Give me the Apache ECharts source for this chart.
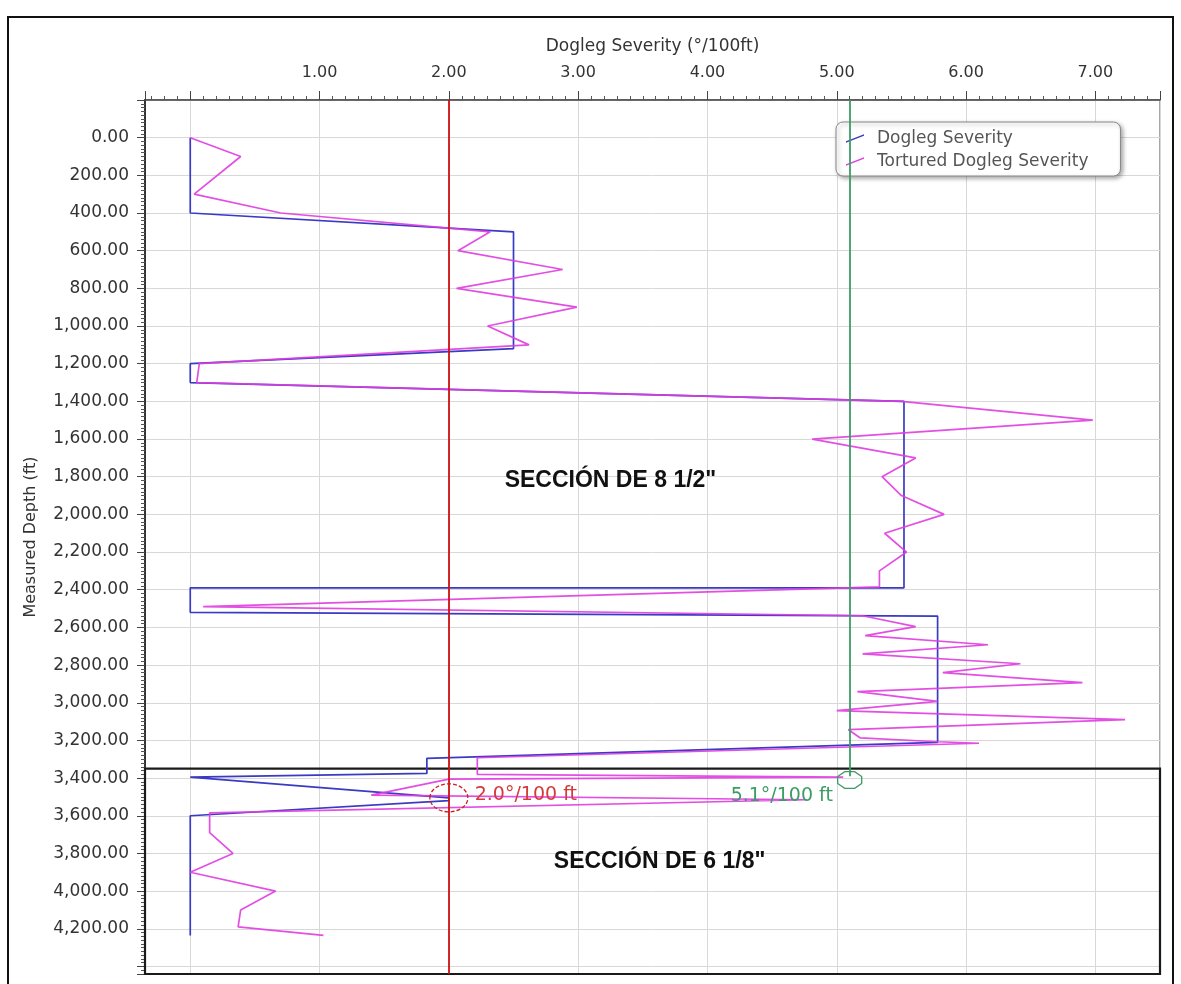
<!DOCTYPE html>
<html>
<head>
<meta charset="utf-8">
<script src="https://cdn.jsdelivr.net/npm/echarts@6/dist/echarts.min.js"></script>
<style>
html,body{margin:0;padding:0;background:#fff;}
#chart{width:1181px;height:984px;}
</style>
</head>
<body>
<div id="chart"></div>
<script>
// Dogleg Severity (°/100ft) vs Measured Depth (ft)
const dlsDepth = [0,400,500,1120,1200,1300,1400,2390,2390,2520,2540,3210,3295,3375,3395,3505,3520,3600,4235];
const dlsValue = [0,0,2.5,2.5,0,0,5.52,5.52,0,0,5.78,5.78,1.83,1.83,0,2.0,2.0,0,0];

const tortDepth = [0,100,300,400,500,600,700,800,900,1000,1100,1200,1300,1400,1500,1600,1700,1800,1900,2000,2100,2200,2300,2385,2490,2538,2596,2644,2692,2740,2793,2840,2893,2941,2993,3042,3090,3143,3186,3207,3215,3292,3380,3395,3405,3490,3515,3585,3690,3800,3900,4000,4100,4190,4235];
const tortValue = [0,0.39,0.03,0.7,2.32,2.07,2.88,2.06,2.99,2.3,2.62,0.07,0.05,5.5,6.98,4.81,5.61,5.35,5.5,5.83,5.37,5.54,5.33,5.33,0.1,5.2,5.61,5.22,6.17,5.2,6.42,5.82,6.9,5.16,5.78,5.0,7.23,5.09,5.18,5.78,6.1,2.22,2.22,5.05,2.0,1.4,4.77,0.15,0.15,0.33,0.0,0.66,0.39,0.37,1.03];

const seriesNames = ['Dogleg Severity','Tortured Dogleg Severity'];
const limitRed = 2.0;
const limitGreen = 5.1;
const limitGreenEnd = 3390;
const sectionTop = 3350;
const xMin = -0.35, xMax = 7.5;
const yMin = -200, yMax = 4440;
const annotations = [
  {text:'SECCIÓN DE 8 1/2"', x:3.25, y:1821},
  {text:'SECCIÓN DE 6 1/8"', x:3.63, y:3845}
];
const redLabel = {text:'2.0°/100 ft', x:2.2, y:3490};
const greenLabel = {text:'5.1°/100 ft', x:4.97, y:3495};
const redCircle = {x:2.0, y:3505};
const greenOct = {x:5.1, y:3410};

const FONT = '"DejaVu Sans", sans-serif';
const chart = echarts.init(document.getElementById('chart'));
const zip = (a,b) => a.map((v,i)=>[v,b[i]]);

const option = {
  animation:false,
  backgroundColor:'#fff',
  grid:{left:145, top:100, right:21, bottom:10, show:true, borderColor:'#8a8a8a', borderWidth:1.5, outerBoundsMode:'none'},
  legend:{
    orient:'vertical', left:836, top:122, padding:[8,32,6,10], itemGap:6,
    itemWidth:18, itemHeight:9,
    backgroundColor:'#fff', borderColor:'#888', borderWidth:1, borderRadius:7,
    shadowBlur:4, shadowColor:'rgba(0,0,0,0.35)', shadowOffsetX:2, shadowOffsetY:2,
    textStyle:{color:'#555', fontSize:17, fontFamily:FONT, padding:[0,0,0,8]},
    data:[
      {name:seriesNames[0], icon:'path://M0,9 L18,2 L18,3.4 L0,10.4 Z'},
      {name:seriesNames[1], icon:'path://M0,9 L18,2 L18,3.4 L0,10.4 Z'}
    ]
  },
  xAxis:{
    type:'value', position:'top', min:xMin, max:xMax, splitNumber:8,
    name:'Dogleg Severity (°/100ft)', nameLocation:'middle', nameGap:45,
    nameTextStyle:{color:'#333', fontSize:17, fontFamily:FONT},
    axisLine:{show:true, onZero:false, lineStyle:{color:'#444', width:1.5}},
    axisTick:{show:true, length:9, lineStyle:{color:'#444'}},
    minorTick:{show:true, splitNumber:10, length:4, lineStyle:{color:'#555'}},
    axisLabel:{color:'#333', fontSize:16, fontFamily:FONT, margin:19, showMinLabel:false, showMaxLabel:false,
      formatter:v => v <= 0.001 ? '' : v.toFixed(2)},
    splitLine:{show:true, lineStyle:{color:'#d8d8d8', width:1}}
  },
  yAxis:{
    type:'value', inverse:true, min:yMin, max:yMax, interval:200,
    name:'Measured Depth (ft)', nameLocation:'middle', nameGap:106,
    nameTextStyle:{color:'#333', fontSize:16, fontFamily:FONT},
    axisLine:{show:true, onZero:false, lineStyle:{color:'#333', width:2}},
    axisTick:{show:true, length:8, lineStyle:{color:'#444'}},
    minorTick:{show:true, splitNumber:10, length:4, lineStyle:{color:'#555'}},
    axisLabel:{color:'#333', fontSize:17, fontFamily:FONT, margin:16, showMinLabel:false, showMaxLabel:false,
      formatter:v => (v < 0 || v > 4300) ? '' : v.toLocaleString('en-US',{minimumFractionDigits:2, maximumFractionDigits:2})},
    splitLine:{show:true, lineStyle:{color:'#d8d8d8', width:1}}
  },
  series:[
    {
      name:seriesNames[0], type:'line', data:zip(dlsValue, dlsDepth), showSymbol:false, symbol:'none',
      color:'#3a3ac4', lineStyle:{width:1.7, color:'#3a3ac4'}, z:3
    },
    {
      name:seriesNames[1], type:'line', data:zip(tortValue, tortDepth), showSymbol:false, symbol:'none',
      color:'#e03ce0', lineStyle:{width:1.7, color:'#e03ce0', opacity:0.9}, z:4
    },
    {
      name:'limits', type:'line', data:[], clip:false, z:6, silent:true,
      markLine:{
        silent:true, symbol:'none', animation:false,
        label:{show:false},
        data:[
          [{coord:[limitRed, yMin], lineStyle:{color:'#d01010', width:1.8, type:'solid'}}, {coord:[limitRed, yMax]}],
          [{coord:[limitGreen, yMin], lineStyle:{color:'#3c9c64', width:1.8, type:'solid'}}, {coord:[limitGreen, limitGreenEnd]}]
        ]
      },
      markArea:{
        silent:true,
        itemStyle:{color:'rgba(0,0,0,0)', borderColor:'#1a1a1a', borderWidth:2.2},
        data:[[{coord:[xMin, sectionTop]}, {coord:[xMax, yMax]}]]
      }
    }
  ]
};
chart.setOption(option);

function px(x,y){ return chart.convertToPixel({gridIndex:0}, [x,y]); }
const g = [];
// outer frame
g.push({type:'rect', shape:{x:8, y:17, width:1165, height:975}, style:{fill:'none', stroke:'#111', lineWidth:2}, z:100});
annotations.forEach(a => {
  const p = px(a.x, a.y);
  g.push({type:'text', x:p[0], y:p[1], style:{text:a.text, fill:'#111', font:'bold 23px "Liberation Sans", Arial, sans-serif', align:'center', verticalAlign:'middle'}, z:50});
});
let p = px(redLabel.x, redLabel.y);
g.push({type:'text', x:p[0], y:p[1], style:{text:redLabel.text, fill:'#d43a3a', font:'19px ' + FONT, align:'left', verticalAlign:'middle'}, z:50});
p = px(greenLabel.x, greenLabel.y);
g.push({type:'text', x:p[0], y:p[1], style:{text:greenLabel.text, fill:'#3c9c64', font:'19px ' + FONT, align:'right', verticalAlign:'middle'}, z:50});
p = px(redCircle.x, redCircle.y);
g.push({type:'ellipse', shape:{cx:p[0], cy:p[1], rx:19, ry:14}, style:{fill:'none', stroke:'#cc2020', lineWidth:1.3, lineDash:[4,2]}, z:50});
p = px(greenOct.x, greenOct.y);
const oct = [];
for (let i=0;i<8;i++){ const a = Math.PI/8 + i*Math.PI/4; oct.push([p[0]+13*Math.cos(a), p[1]+9*Math.sin(a)]); }
g.push({type:'polygon', shape:{points:oct}, style:{fill:'none', stroke:'#3c9c64', lineWidth:1.3}, z:50});
chart.setOption({graphic:g});
</script>
</body>
</html>
